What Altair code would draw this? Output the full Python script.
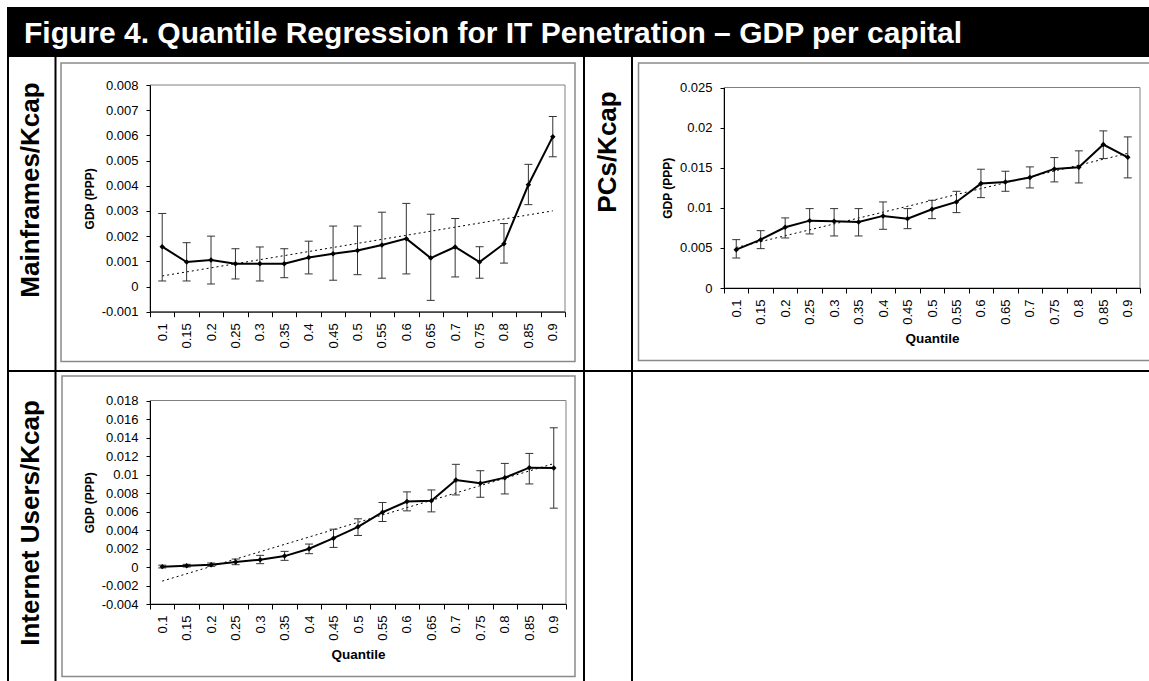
import altair as alt
import pandas as pd

# ---------------------------------------------------------------- data
QUANTILES = [0.1, 0.15, 0.2, 0.25, 0.3, 0.35, 0.4, 0.45, 0.5,
             0.55, 0.6, 0.65, 0.7, 0.75, 0.8, 0.85, 0.9]

# Mainframes per 1000 people: GDP (PPP) coefficient and its interval
MAINFRAME_EST = [0.00158, 0.00097, 0.00105, 0.0009, 0.0009, 0.0009, 0.00115, 0.0013, 0.00143,
                 0.00165, 0.0019, 0.00113, 0.00157, 0.00097, 0.0017, 0.00404, 0.00595]
MAINFRAME_LO = [0.00022, 0.00022, 0.0001, 0.0003, 0.00022, 0.00035, 0.0005, 0.00025, 0.00047,
                0.00033, 0.0005, -0.00055, 0.00038, 0.00033, 0.00093, 0.00325, 0.00515]
MAINFRAME_HI = [0.0029, 0.00174, 0.002, 0.0015, 0.00157, 0.0015, 0.0018, 0.0024, 0.0024,
                0.00295, 0.0033, 0.00287, 0.0027, 0.00158, 0.0025, 0.00485, 0.00675]

# PCs per 1000 people
PC_EST = [0.00478, 0.00603, 0.00757, 0.0084, 0.00832, 0.00824, 0.00899, 0.00865, 0.00982,
          0.01073, 0.01302, 0.01323, 0.01377, 0.01485, 0.01506, 0.01789, 0.0163]
PC_LO = [0.00374, 0.00491, 0.00624, 0.00674, 0.00649, 0.00649, 0.00732, 0.0074, 0.00865,
         0.0094, 0.01127, 0.01206, 0.01248, 0.01323, 0.0131, 0.01614, 0.01373]
PC_HI = [0.00603, 0.00715, 0.00874, 0.0099, 0.0099, 0.0099, 0.01073, 0.0099, 0.01094,
         0.01206, 0.01481, 0.01456, 0.0151, 0.01626, 0.0171, 0.01959, 0.01884]

# Internet users per 1000 people
INTERNET_EST = [0.00004, 0.00014, 0.00025, 0.00054, 0.00079, 0.00118, 0.00197, 0.00312, 0.00434,
                0.00592, 0.00707, 0.00715, 0.00941, 0.00905, 0.00966, 0.01074, 0.0107]
INTERNET_LO = [-0.0001, 0.0, 0.00007, 0.00025, 0.00036, 0.00072, 0.00144, 0.00212, 0.00341,
               0.00492, 0.00607, 0.00596, 0.00779, 0.00754, 0.0079, 0.00898, 0.00636]
INTERNET_HI = [0.0002, 0.00029, 0.00043, 0.00086, 0.00126, 0.00169, 0.00248, 0.00409, 0.00521,
               0.00697, 0.00812, 0.00833, 0.0111, 0.01041, 0.0112, 0.01228, 0.01505]

# y-axis tick values of the three panels
MAINFRAME_TICKS = [-0.001, 0.0, 0.001, 0.002, 0.003, 0.004, 0.005, 0.006, 0.007, 0.008]
PC_TICKS = [0.0, 0.005, 0.01, 0.015, 0.02, 0.025]
INTERNET_TICKS = [-0.004, -0.002, 0.0, 0.002, 0.004, 0.006, 0.008, 0.01,
                  0.012, 0.014, 0.016, 0.018]

FIGURE_TITLE = "Figure 4. Quantile Regression for IT Penetration \u2013 GDP per capital"
ROW_MAINFRAMES = "Mainframes/Kcap"
ROW_PCS = "PCs/Kcap"
ROW_INTERNET = "Internet Users/Kcap"
Y_TITLE = "GDP (PPP)"
X_TITLE = "Quantile"

# ---------------------------------------------------------------- layout
W, H = 1149, 681
FONT = "Liberation Sans"
HALF_STEP = 0.025
ONE = pd.DataFrame({"k": [0]})

Y_LABEL_EXPR = ("datum.value < 0 ? '-' + format(-datum.value, '.3~f') "
                ": format(datum.value, '.3~f')")
X_LABEL_EXPR = (f"datum.value > {QUANTILES[-1]} ? '' "
                f": format(datum.value + {HALF_STEP}, '.2~f')")

AXIS_STYLE = dict(labelFont=FONT, labelFontSize=13, labelColor="black",
                  tickColor="black", domainColor="black", tickWidth=1, domainWidth=1,
                  titleFont=FONT, titleColor="black", grid=False, zindex=1,
                  labelFlush=False, labelOverlap=False)


def panel(est, lo, hi, yticks, box, x_title):
    """Layers of one spreadsheet-style panel placed in the pixel box (left, right, top, bottom).

    Every layer carries the same explicit scale, so the panel keeps one coordinate
    system even though the enclosing layer resolves scales independently."""
    left, right, top, bottom = box
    df = pd.DataFrame({"q": QUANTILES, "gdp": est, "lo": lo, "hi": hi})
    edges = [round(q - HALF_STEP, 3) for q in QUANTILES] + [round(QUANTILES[-1] + HALF_STEP, 3)]
    step = (right - left) / len(QUANTILES)

    xs = alt.Scale(domain=[edges[0], edges[-1]], range=[left, right], nice=False, zero=False)
    ys = alt.Scale(domain=[yticks[0], yticks[-1]], range=[bottom, top], nice=False, zero=False)

    x_axis = alt.Axis(orient="bottom", offset=bottom - H, values=edges,
                      labelExpr=X_LABEL_EXPR, labelAngle=-90, labelOffset=step / 2,
                      labelPadding=6, tickSize=5, title=x_title, titleFontSize=13.5,
                      titleFontWeight="bold", titlePadding=7, **AXIS_STYLE)
    y_axis = alt.Axis(orient="left", offset=-left, values=yticks, labelExpr=Y_LABEL_EXPR,
                      tickSize=4, labelPadding=8, title=Y_TITLE, titleFontSize=12,
                      titleFontWeight="bold", titlePadding=5, **AXIS_STYLE)

    area_df = pd.DataFrame({"q": [edges[0]], "q_end": [edges[-1]],
                            "gdp": [yticks[0]], "gdp_end": [yticks[-1]]})
    area = alt.Chart(area_df).mark_rect(fillOpacity=0, stroke="#808080", strokeWidth=1).encode(
        x=alt.X("q:Q", scale=xs, axis=x_axis), x2="q_end:Q",
        y=alt.Y("gdp:Q", scale=ys, axis=y_axis), y2="gdp_end:Q")

    x_enc = alt.X("q:Q", scale=xs, axis=None)

    def y_enc(field):
        return alt.Y(f"{field}:Q", scale=ys, axis=None)

    trend = alt.Chart(df).transform_regression("q", "gdp").mark_line(
        color="black", strokeWidth=1, strokeDash=[2, 3]).encode(x=x_enc, y=y_enc("gdp"))
    whisker = alt.Chart(df).mark_rule(color="#333333", strokeWidth=1).encode(
        x=x_enc, y=y_enc("lo"), y2="hi:Q")
    cap_lo = alt.Chart(df).mark_tick(orient="horizontal", size=8, thickness=1,
                                     color="#333333", opacity=1).encode(x=x_enc, y=y_enc("lo"))
    cap_hi = alt.Chart(df).mark_tick(orient="horizontal", size=8, thickness=1,
                                     color="#333333", opacity=1).encode(x=x_enc, y=y_enc("hi"))
    line = alt.Chart(df).mark_line(color="black", strokeWidth=2).encode(x=x_enc, y=y_enc("gdp"))
    dots = alt.Chart(df).mark_point(shape="diamond", filled=True, size=30, color="black",
                                    opacity=1).encode(x=x_enc, y=y_enc("gdp"))
    return [area, trend, whisker, cap_lo, cap_hi, line, dots]


def box_rect(x0, x1, y0, y1, **style):
    return alt.Chart(ONE).mark_rect(**style).encode(
        x=alt.value(x0), x2=alt.value(x1), y=alt.value(y0), y2=alt.value(y1))


def vrule(x, y0, y1):
    return alt.Chart(ONE).mark_rule(color="black", strokeWidth=2).encode(
        x=alt.value(x), y=alt.value(y0), y2=alt.value(y1))


def hrule(y, x0, x1):
    return alt.Chart(ONE).mark_rule(color="black", strokeWidth=2).encode(
        x=alt.value(x0), x2=alt.value(x1), y=alt.value(y))


def label(text, x, y, **style):
    return alt.Chart(pd.DataFrame({"t": [text]})).mark_text(font=FONT, **style).encode(
        x=alt.value(x), y=alt.value(y), text="t:N")


# table decoration: heading bar, cell borders, spreadsheet frames, row labels
decor = [
    box_rect(7, W, 7, 57, color="black"),
    label(FIGURE_TITLE, 24, 43, color="white", fontSize=30, fontWeight="bold",
          align="left", baseline="alphabetic"),
    vrule(8, 56, H), vrule(55.5, 56, H), vrule(584, 56, H), vrule(632, 56, H),
    hrule(371, 7, W),
    box_rect(61, 575, 63, 361.5, fillOpacity=0, stroke="#8a8a8a", strokeWidth=1.5),
    box_rect(638.5, W + 10, 63, 360.5, fillOpacity=0, stroke="#8a8a8a", strokeWidth=1.5),
    box_rect(62, 575, 376, 676.5, fillOpacity=0, stroke="#8a8a8a", strokeWidth=1.5),
    label(ROW_MAINFRAMES, 31, 190, angle=270, fontSize=26, fontWeight="bold",
          align="center", baseline="middle", color="black"),
    label(ROW_PCS, 608, 152, angle=270, fontSize=26, fontWeight="bold",
          align="center", baseline="middle", color="black"),
    label(ROW_INTERNET, 31, 523, angle=270, fontSize=26, fontWeight="bold",
          align="center", baseline="middle", color="black"),
]

layers = (
    decor
    + panel(MAINFRAME_EST, MAINFRAME_LO, MAINFRAME_HI, MAINFRAME_TICKS,
            (150, 565, 85, 311.7), None)
    + panel(PC_EST, PC_LO, PC_HI, PC_TICKS, (724, 1140, 87.5, 288), X_TITLE)
    + panel(INTERNET_EST, INTERNET_LO, INTERNET_HI, INTERNET_TICKS,
            (150, 566, 400.5, 604), X_TITLE)
)

chart = alt.layer(*layers).resolve_scale(
    x="independent", y="independent"
).properties(
    width=W, height=H, padding=0, background="white",
    autosize=alt.AutoSizeParams(type="none"),
).configure_view(stroke=None)

chart.save("out.html", embed_options={"renderer": "svg", "actions": False})
